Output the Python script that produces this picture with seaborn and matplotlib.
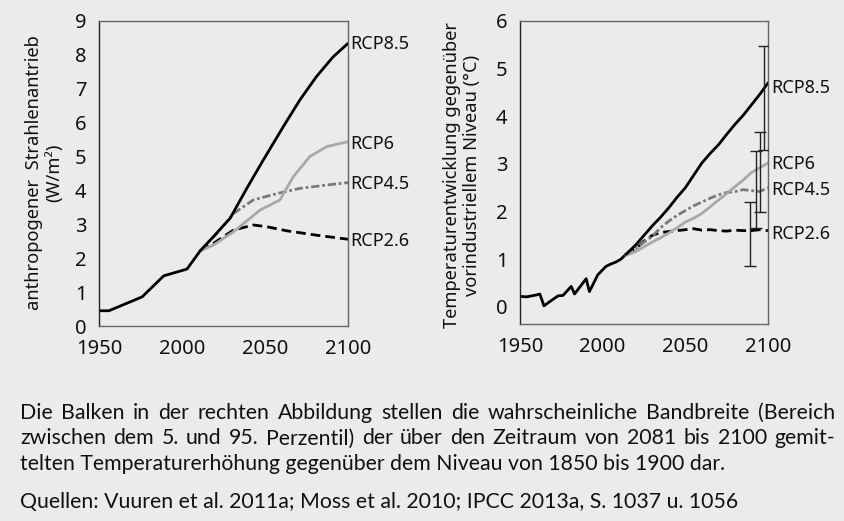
import matplotlib
matplotlib.use("Agg")
import matplotlib.pyplot as plt
import seaborn as sns
import pandas as pd

sns.set_theme(style="white")
plt.rcParams['font.family'] = ['Noto Sans', 'DejaVu Sans']

BG = "#ebebeb"

# ---------------- Data: left panel (radiative forcing, W/m2) ----------------
hist_f_years = [1950, 1956, 1976, 1989, 2003, 2011]
hist_f_vals = [0.45, 0.45, 0.86, 1.48, 1.68, 2.22]

rcp85_f_years = [2011, 2019, 2029, 2039, 2049, 2061, 2071, 2081, 2091, 2100]
rcp85_f_vals = [2.22, 2.64, 3.18, 4.06, 4.90, 5.88, 6.67, 7.36, 7.94, 8.34]

rcp6_f_years = [2011, 2019, 2031, 2047, 2059, 2067, 2077, 2087, 2100]
rcp6_f_vals = [2.22, 2.39, 2.78, 3.42, 3.72, 4.40, 5.00, 5.29, 5.44]

rcp45_f_years = [2011, 2021, 2031, 2043, 2059, 2071, 2087, 2100]
rcp45_f_vals = [2.22, 2.73, 3.32, 3.72, 3.93, 4.06, 4.16, 4.23]

rcp26_f_years = [2011, 2019, 2031, 2043, 2051, 2063, 2081, 2100]
rcp26_f_vals = [2.22, 2.44, 2.83, 2.98, 2.93, 2.81, 2.68, 2.56]

# ---------------- Data: right panel (temperature change, degC) ----------------
hist_t_years = [1950, 1954, 1960, 1962, 1964.5, 1968, 1973, 1976, 1981, 1983,
                1990, 1992, 1997, 2002, 2005, 2008, 2011, 2014]
hist_t_vals = [0.22, 0.21, 0.25, 0.27, 0.02, 0.11, 0.23, 0.24, 0.43, 0.27,
               0.59, 0.32, 0.67, 0.85, 0.90, 0.94, 1.00, 1.10]

rcp85_t_years = [2014, 2020, 2026, 2030, 2035, 2040, 2045, 2050, 2055, 2060,
                 2065, 2070, 2075, 2080, 2085, 2090, 2095, 2100]
rcp85_t_vals = [1.10, 1.30, 1.54, 1.70, 1.88, 2.08, 2.30, 2.50, 2.76, 3.02,
                3.22, 3.40, 3.62, 3.83, 4.02, 4.24, 4.46, 4.70]

rcp6_t_years = [2014, 2020, 2025, 2030, 2035, 2040, 2045, 2050, 2055, 2060,
                2065, 2070, 2075, 2080, 2085, 2090, 2095, 2100]
rcp6_t_vals = [1.08, 1.16, 1.26, 1.36, 1.45, 1.55, 1.66, 1.78, 1.86, 1.96,
               2.10, 2.24, 2.38, 2.52, 2.66, 2.82, 2.92, 3.02]

rcp45_t_years = [2014, 2020, 2025, 2030, 2035, 2040, 2045, 2050, 2055, 2060,
                 2065, 2070, 2075, 2080, 2085, 2090, 2095, 2100]
rcp45_t_vals = [1.10, 1.22, 1.36, 1.48, 1.66, 1.80, 1.92, 2.02, 2.12, 2.20,
                2.28, 2.35, 2.40, 2.42, 2.46, 2.44, 2.42, 2.50]

rcp26_t_years = [2014, 2020, 2025, 2030, 2035, 2040, 2045, 2050, 2055, 2060,
                 2065, 2070, 2075, 2080, 2085, 2090, 2095, 2100]
rcp26_t_vals = [1.10, 1.22, 1.38, 1.50, 1.56, 1.58, 1.60, 1.62, 1.64, 1.61,
                1.62, 1.60, 1.59, 1.61, 1.60, 1.60, 1.62, 1.60]

# likely ranges 2081-2100 (5th-95th percentile)
range_names = ["RCP2.6", "RCP4.5", "RCP6", "RCP8.5"]
range_x = [2089, 2092.6, 2095.4, 2097.6]
range_low = [0.85, 1.66, 2.00, 3.30]
range_high = [2.20, 3.27, 3.66, 5.48]

scen_names = ["RCP8.5", "RCP6", "RCP4.5", "RCP2.6"]
styles = {
    "RCP8.5": dict(color="#000000", lw=2.0, ls="-"),
    "RCP6": dict(color="#a8a8a8", lw=2.0, ls="-"),
    "RCP4.5": dict(color="#7a7a7a", lw=2.0, ls=(0, (3, 1, 1, 1))),
    "RCP2.6": dict(color="#000000", lw=2.0, ls=(0, (3.5, 1.8))),
}

caption_lines = [
    "Die Balken in der rechten Abbildung stellen die wahrscheinliche Bandbreite (Bereich",
    "zwischen dem 5. und 95. Perzentil) der über den Zeitraum von 2081 bis 2100 gemit-",
    "telten Temperaturerhöhung gegenüber dem Niveau von 1850 bis 1900 dar.",
]
source_line = "Quellen: Vuuren et al. 2011a; Moss et al. 2010; IPCC 2013a, S. 1037 u. 1056"


def frame(years, vals, name):
    return pd.DataFrame({"year": years, "value": vals, "scenario": name})


fig = plt.figure(figsize=(8.45, 5.21), dpi=100, facecolor=BG)
W, H = 845, 521
axL = fig.add_axes([99 / W, (H - 326) / H, 249 / W, 305 / H])
axR = fig.add_axes([520 / W, (H - 324) / H, 248 / W, 303 / H])


def style_axes(ax):
    ax.set_facecolor(BG)
    for s in ["left", "bottom", "top", "right"]:
        ax.spines[s].set_visible(True)
        ax.spines[s].set_linewidth(1.0)
    ax.spines["left"].set_color("#222222")
    for s in ["bottom", "top", "right"]:
        ax.spines[s].set_color("#666666")
    ax.tick_params(axis="both", direction="out", length=7, width=1.0,
                   color="#666666", labelsize=14.5, labelcolor="#111111", pad=2)
    ax.tick_params(axis="x", pad=2)
    ax.set_xlabel("")
    ax.set_ylabel("")


def draw_panel(ax, hist, series, label_y, label_x):
    sns.lineplot(data=hist, x="year", y="value", ax=ax, color="#000000",
                 lw=2.0, legend=False, estimator=None, sort=False)
    for name in ["RCP2.6", "RCP4.5", "RCP6", "RCP8.5"]:
        st = styles[name]
        sns.lineplot(data=series[name], x="year", y="value", ax=ax,
                     color=st["color"], lw=st["lw"], linestyle=st["ls"],
                     legend=False, estimator=None, sort=False)
    for name in scen_names:
        ax.text(label_x, label_y[name], name, fontsize=13, color="#111111",
                va="center", ha="left", clip_on=False)


# left panel
histL = frame(hist_f_years, hist_f_vals, "hist")
seriesL = {
    "RCP8.5": frame(rcp85_f_years, rcp85_f_vals, "RCP8.5"),
    "RCP6": frame(rcp6_f_years, rcp6_f_vals, "RCP6"),
    "RCP4.5": frame(rcp45_f_years, rcp45_f_vals, "RCP4.5"),
    "RCP2.6": frame(rcp26_f_years, rcp26_f_vals, "RCP2.6"),
}
draw_panel(axL, histL, seriesL,
           {"RCP8.5": 8.32, "RCP6": 5.36, "RCP4.5": 4.18, "RCP2.6": 2.5}, 2101.5)
axL.set_xlim(1950, 2100)
axL.set_ylim(0, 9)
axL.set_xticks([1950, 2000, 2050, 2100])
axL.set_yticks(range(0, 10))
style_axes(axL)
fig.text(44 / W, (H - 173) / H, "anthropogener  Strahlenantrieb\n(W/m²)",
         rotation=90, ha="center", va="center", fontsize=13.2,
         linespacing=1.2, color="#111111")

# right panel
histR = frame(hist_t_years, hist_t_vals, "hist")
seriesR = {
    "RCP8.5": frame(rcp85_t_years, rcp85_t_vals, "RCP8.5"),
    "RCP6": frame(rcp6_t_years, rcp6_t_vals, "RCP6"),
    "RCP4.5": frame(rcp45_t_years, rcp45_t_vals, "RCP4.5"),
    "RCP2.6": frame(rcp26_t_years, rcp26_t_vals, "RCP2.6"),
}
draw_panel(axR, histR, seriesR,
           {"RCP8.5": 4.6, "RCP6": 3.0, "RCP4.5": 2.46, "RCP2.6": 1.52}, 2102)
axR.errorbar(range_x, [(l + h) / 2 for l, h in zip(range_low, range_high)],
             yerr=[[(h - l) / 2 for l, h in zip(range_low, range_high)],
                   [(h - l) / 2 for l, h in zip(range_low, range_high)]],
             fmt="none", ecolor="#222222", elinewidth=1.0, capsize=4,
             capthick=1.0, zorder=5)
axR.set_xlim(1950, 2100)
axR.set_ylim(-0.36, 6)
axR.set_xticks([1950, 2000, 2050, 2100])
axR.set_yticks(range(0, 7))
style_axes(axR)
fig.text(462 / W, (H - 175) / H,
         "Temperaturentwicklung gegenüber\nvorindustriellem Niveau (°C)",
         rotation=90, ha="center", va="center", fontsize=13.2,
         linespacing=1.2, color="#111111")

# caption (justified like the reference)
renderer = fig.canvas.get_renderer()
cap_family = ["Lato", "DejaVu Sans"]
x0, x1 = 20, 835


def text_w(s, size):
    t = fig.text(0, 0, s, fontsize=size, family=cap_family)
    w = t.get_window_extent(renderer=renderer).width
    t.remove()
    return w


base = 12.0
w_line1 = text_w(caption_lines[0], base)
cap_size = base * 780.0 / w_line1

ys = [413, 438.5, 464]
for i, ln in enumerate(caption_lines):
    y = (H - ys[i]) / H
    if i < 2:
        words = ln.split(" ")
        widths = [text_w(wd, cap_size) for wd in words]
        gap = (x1 - x0 - sum(widths)) / (len(words) - 1)
        x = x0
        for wd, wdw in zip(words, widths):
            fig.text(x / W, y, wd, fontsize=cap_size, family=cap_family,
                     color="#111111", va="center", ha="left")
            x += wdw + gap
    else:
        fig.text(x0 / W, y, ln, fontsize=cap_size, family=cap_family,
                 color="#111111", va="center", ha="left")
fig.text(x0 / W, (H - 502) / H, source_line, fontsize=cap_size,
         family=cap_family, color="#111111", va="center", ha="left")

fig.savefig("out.png", dpi=100, facecolor=BG)
